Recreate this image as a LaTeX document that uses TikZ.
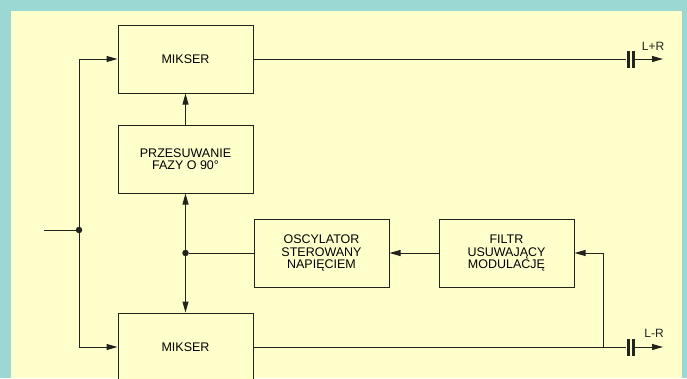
\documentclass[tikz,border=0pt]{standalone}
\usepackage{fontspec}
\setmainfont{Liberation Sans}
\usetikzlibrary{arrows.meta}
\definecolor{framecyan}{RGB}{155,216,212}
\definecolor{paneyellow}{RGB}{255,255,204}
\definecolor{inkgray}{RGB}{35,35,30}
\tikzset{
  wire/.style={draw=inkgray,line width=1pt},
  flow/.style={wire,-{Triangle[length=11pt,width=6pt]}},
  block/.style={draw=inkgray,line width=1pt,fill=paneyellow,minimum width=135pt,
                minimum height=68pt,inner sep=2pt,align=center,
                font=\fontsize{12.5}{12.5}\selectfont},
  junction/.style={circle,fill=inkgray,inner sep=0pt,minimum size=6.5pt},
  plate/.style={rectangle,fill=inkgray,inner sep=0pt,minimum width=3pt,minimum height=17pt},
  lab/.style={font=\fontsize{12}{12}\selectfont,text=inkgray},
}
\begin{document}
\begin{tikzpicture}[x=1pt,y=-1pt]
  \useasboundingbox (0,0) rectangle (687,378);
  \fill[framecyan] (0,0) rectangle (687,378);
  \fill[paneyellow] (11,11) rectangle (682,378);

  \node[block] (MIX1) at (185.5,59) {MIKSER};
  \node[block] (PHASE) at (185.5,159) {PRZESUWANIE\\FAZY O 90°};
  \node[block] (VCO) at (321.5,253) {OSCYLATOR\\STEROWANY\\NAPIĘCIEM};
  \node[block] (FLT) at (506.5,253) {FILTR\\USUWAJĄCY\\MODULACJĘ};
  \node[block] (MIX2) at (185.5,347) {MIKSER};

  \node[junction] (IN) at (79,230) {};
  \node[junction] (TAP) at (185.5,253) {};
  \coordinate (SRC) at (44,230);
  \coordinate (FB) at (603,347);

  \node[plate] (C1a) at (628,59) {};
  \node[plate] (C1b) at (633.5,59) {};
  \node[plate] (C2a) at (628,347) {};
  \node[plate] (C2b) at (633.5,347) {};
  \coordinate (OUT1) at (663,59);
  \coordinate (OUT2) at (663,347);
  \node[lab] at (653,46) {L+R};
  \node[lab] at (654,333) {L-R};

  % input split
  \draw[wire] (SRC) -- (IN);
  \draw[flow] (IN) |- (MIX1.west);
  \draw[flow] (IN) |- (MIX2.west);
  % carrier loop
  \draw[flow] (PHASE) -- (MIX1);
  \draw[flow] (TAP) -- (PHASE);
  \draw[flow] (TAP) -- (MIX2);
  \draw[wire] (VCO) -- (TAP);
  \draw[flow] (FLT) -- (VCO);
  \draw[flow] (FB) |- (FLT.east);
  % outputs
  \draw[wire] (MIX1) -- (C1a);
  \draw[flow] (C1b) -- (OUT1);
  \draw[wire] (MIX2) -- (C2a);
  \draw[flow] (C2b) -- (OUT2);
\end{tikzpicture}
\end{document}
